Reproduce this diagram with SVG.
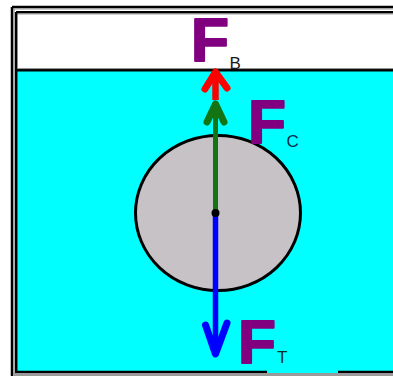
<svg xmlns="http://www.w3.org/2000/svg" width="393" height="376" viewBox="0 0 393 376">
<defs>
<style>
.big{font-family:"Liberation Sans",Arial,sans-serif;font-weight:bold;font-size:62px;fill:#800080;stroke:#800080;stroke-width:2;stroke-linejoin:round}
.sub{font-family:"Liberation Sans",Arial,sans-serif;font-size:17px}
.head{fill:none;stroke-width:7;stroke-linecap:round;stroke-linejoin:round}
</style>
</defs>
<rect x="0" y="0" width="393" height="376" fill="#ffffff"/>
<g id="frame">
<rect x="16" y="14" width="377" height="58" fill="#ffffff"/>
<rect x="17" y="71" width="376" height="302" fill="#00ffff"/>
<line x1="12" y1="7" x2="393" y2="7" stroke="#000" stroke-width="2.5"/>
<line x1="12" y1="8.8" x2="393" y2="8.8" stroke="#999" stroke-width="1.2"/>
<line x1="12" y1="7" x2="12" y2="376" stroke="#000" stroke-width="2.5"/>
<line x1="14" y1="9" x2="14" y2="376" stroke="#999" stroke-width="1.4"/>
<line x1="16" y1="12.2" x2="393" y2="12.2" stroke="#000" stroke-width="2.5"/>
<line x1="16" y1="14" x2="393" y2="14" stroke="#999" stroke-width="1.2"/>
<line x1="16.2" y1="12" x2="16.2" y2="373" stroke="#000" stroke-width="2.5"/>
<line x1="17" y1="70.3" x2="393" y2="70.3" stroke="#000" stroke-width="2.5"/>
<line x1="17" y1="68.6" x2="393" y2="68.6" stroke="#888" stroke-width="1"/>
<line x1="16" y1="371.8" x2="267" y2="371.8" stroke="#000" stroke-width="2.2"/>
<line x1="338" y1="371.8" x2="393" y2="371.8" stroke="#000" stroke-width="2.2"/>
<rect x="14" y="373" width="379" height="3" fill="#9a9a9a"/>
</g>
<g id="ball">
<ellipse cx="218" cy="213" rx="82.5" ry="77.5" fill="#c6c2c6" stroke="#000" stroke-width="3"/>
</g>
<g id="connectors">
<g id="arrow-c">
<line x1="215.5" y1="213" x2="215.5" y2="106" stroke="#137413" stroke-width="5"/>
<polyline class="head" points="207,122 215.5,104 224,122" stroke="#137413"/>
</g>
<g id="arrow-b">
<line x1="215.5" y1="100" x2="215.5" y2="74" stroke="#ff0000" stroke-width="6.5"/>
<polyline class="head" points="205,89 215.5,72 227,88" stroke="#ff0000"/>
</g>
<g id="arrow-t">
<line x1="215.5" y1="213" x2="215.5" y2="352" stroke="#0000ff" stroke-width="5.5"/>
<polyline class="head" points="205.5,325 215.5,354 227,323" stroke="#0000ff"/>
</g>
<circle cx="215.5" cy="213" r="4" fill="#000"/>
</g>
<g id="label-fb">
<text class="big" x="191" y="61">F</text>
<text class="sub" x="229.5" y="69" fill="#1a1a1a">B</text>
</g>
<g id="label-fc">
<text class="big" x="248" y="143">F</text>
<text class="sub" x="286.5" y="146.5" fill="#0a2a4a">C</text>
</g>
<g id="label-ft">
<text class="big" x="238" y="363">F</text>
<text class="sub" x="277" y="363" fill="#003322">T</text>
</g>
</svg>
